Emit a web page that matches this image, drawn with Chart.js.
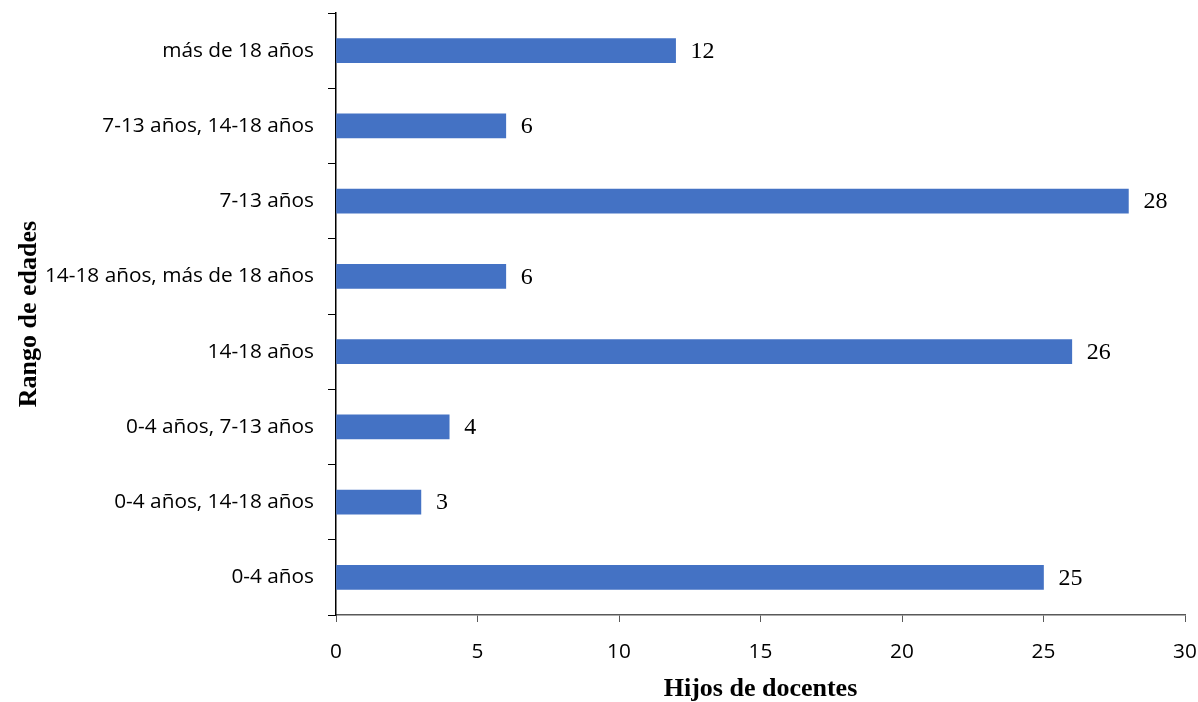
<!DOCTYPE html>
<html>
<head>
<meta charset="utf-8">
<script src="https://cdn.jsdelivr.net/npm/chart.js@4/dist/chart.umd.min.js"></script>
<style>
  html, body { margin: 0; padding: 0; background: #fff; }
  #wrap { width: 1198px; height: 702px; }
</style>
</head>
<body>
<div id="wrap"><canvas id="chart"></canvas></div>
<script>
'use strict';

// categories, top to bottom as in the picture
const categories = [
    'más de 18 años',
    '7-13 años, 14-18 años',
    '7-13 años',
    '14-18 años, más de 18 años',
    '14-18 años',
    '0-4 años, 7-13 años',
    '0-4 años, 14-18 años',
    '0-4 años'
];
const hijos = [12, 6, 28, 6, 26, 4, 3, 25];
const xTicks = [0, 5, 10, 15, 20, 25, 30];

const tickFont = { family: '"Open Sans", sans-serif', size: 20.8 };
const titleFont = { family: '"Liberation Serif", "Times New Roman", serif', size: 26, weight: 'bold', lineHeight: 1 };

// numbers at the end of each bar
const barLabels = {
    id: 'barLabels',
    afterDatasetsDraw(chart) {
        const ctx = chart.ctx;
        const meta = chart.getDatasetMeta(0);
        ctx.save();
        ctx.font = '24px "Liberation Serif", "Times New Roman", serif';
        ctx.fillStyle = '#000';
        ctx.textAlign = 'left';
        ctx.textBaseline = 'middle';
        meta.data.forEach(function(bar, i) {
            ctx.fillText(String(hijos[i]), bar.x + 15, bar.y + 1);
        });
        ctx.restore();
    }
};

const config = {
    type: 'bar',
    data: {
        labels: categories,
        datasets: [{
            label: 'Hijos de docentes',
            data: hijos,
            backgroundColor: '#4472C4',
            borderWidth: 0,
            barThickness: 24
        }]
    },
    options: {
        indexAxis: 'y',
        responsive: true,
        maintainAspectRatio: false,
        animation: false,
        layout: { padding: { top: 13, right: 13, bottom: 0, left: 0 } },
        plugins: {
            legend: { display: false },
            tooltip: { enabled: false }
        },
        scales: {
            x: {
                min: 0,
                max: 30,
                afterBuildTicks(scale) {
                    scale.ticks = xTicks.map(function(v) { return { value: v }; });
                },
                afterFit(scale) {
                    scale.height = 87;
                    scale.paddingLeft = 0;
                    scale.paddingRight = 0;
                },
                grid: {
                    drawOnChartArea: false,
                    drawTicks: true,
                    tickLength: 7,
                    color: '#595959'
                },
                border: { display: true, color: '#595959', width: 1.5 },
                ticks: { color: '#000', font: tickFont, padding: 18 },
                title: {
                    display: true,
                    text: 'Hijos de docentes',
                    color: '#000',
                    font: titleFont,
                    padding: { top: 0, bottom: 0 }
                }
            },
            y: {
                offset: true,
                afterFit(scale) {
                    scale.width = 336;
                    scale.paddingTop = 0;
                    scale.paddingBottom = 0;
                },
                grid: {
                    offset: true,
                    drawOnChartArea: false,
                    drawTicks: true,
                    tickLength: 8,
                    color: '#000'
                },
                border: { display: true, color: '#000', width: 1.5 },
                ticks: { color: '#000', font: tickFont, padding: 14, autoSkip: false },
                title: {
                    display: true,
                    text: 'Rango de edades',
                    color: '#000',
                    font: titleFont,
                    padding: { top: 16, bottom: 0 }
                }
            }
        }
    },
    plugins: [barLabels]
};

const chart = new Chart(document.getElementById('chart'), config);
</script>
</body>
</html>
